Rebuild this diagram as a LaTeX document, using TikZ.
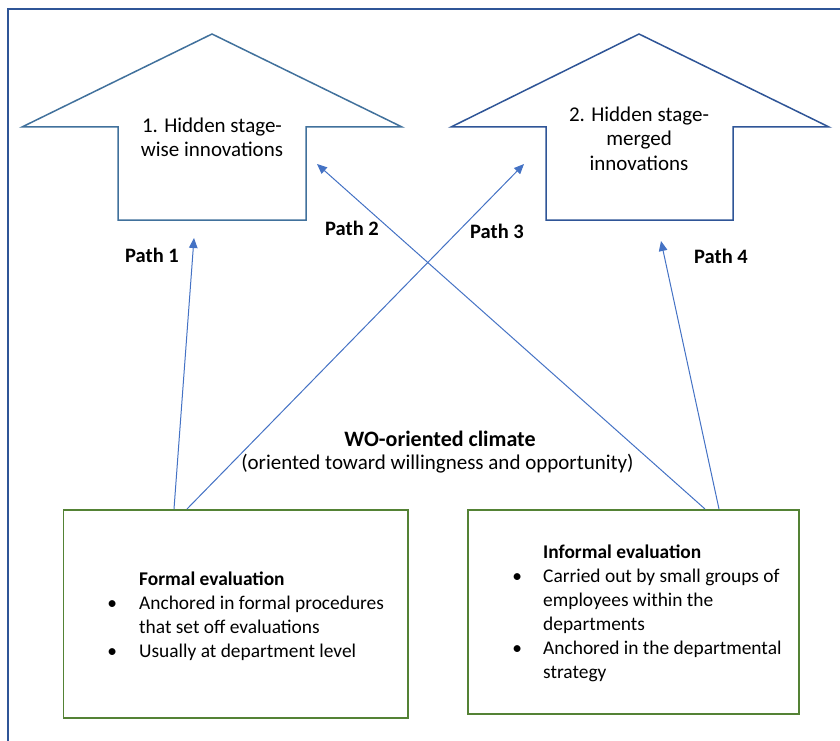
\documentclass[tikz,border=0pt]{standalone}
\usepackage{fontspec}
\setmainfont{Carlito}
\usetikzlibrary{arrows.meta}
\definecolor{frameblue}{HTML}{2F5597}
\definecolor{arrowAblue}{HTML}{41719C}
\definecolor{arrowBblue}{HTML}{2F5597}
\definecolor{connblue}{HTML}{4472C4}
\definecolor{boxgreen}{HTML}{548235}
\newcommand{\bul}[1]{\makebox[#1][l]{\makebox[0pt]{\textbullet}}}
\begin{document}
\begin{tikzpicture}[x=1pt,y=-1pt,
  bigarrow/.style={line width=1.5pt, line join=miter, fill=white},
  gbox/.style={draw=boxgreen, line width=1.5pt, anchor=north west, inner sep=0pt},
  conn/.style={draw=connblue, line width=1pt, -{Triangle[length=10pt,width=8.5pt]}},
  txt/.style={font=\fontsize{21}{24.5}\selectfont, inner sep=0pt, text=black},
  boxtxt/.style={font=\fontsize{19.4}{24}\selectfont, inner sep=0pt, text=black, anchor=base west},
  lbl/.style={font=\fontsize{20.5}{24}\selectfont\bfseries, inner sep=0pt, anchor=base west, text=black}]
\useasboundingbox (0,0) rectangle (840,741);
\clip (0,0) rectangle (840,741);
% outer frame (cut off at right and bottom)
\draw[frameblue, line width=2pt] (7.5,800) -- (7.5,9.5) -- (900,9.5);

% big arrows
\draw[bigarrow, draw=arrowAblue] (212,34) -- (402,127) -- (306,127) -- (306,220) -- (118,220) -- (118,127) -- (22,127) -- cycle;
\draw[bigarrow, draw=arrowBblue] (639,34) -- (829,127) -- (733,127) -- (733,220) -- (546,220) -- (546,127) -- (451,127) -- cycle;
\node[txt, anchor=base, align=center] (stagewise) at (212,157) {1. Hidden stage-\\wise innovations};
\node[txt, anchor=base, align=center] (stagemerged) at (639,170) {2. Hidden stage-\\merged\\innovations};

% boxes
\node[gbox, minimum width=344.5pt, minimum height=208pt] (formal) at (62.5,509) {};
\node[gbox, minimum width=331pt, minimum height=204pt] (informal) at (467,509) {};

\node[boxtxt] (formaltxt) at (112,585) {%
  \begin{tabular}[t]{@{}l@{}}
  \hspace{27pt}\textbf{Formal evaluation}\\
  \bul{27pt}Anchored in formal procedures\\
  \hspace{27pt}that set off evaluations\\
  \bul{27pt}Usually at department level
  \end{tabular}};
\node[boxtxt] (informaltxt) at (517,558) {%
  \begin{tabular}[t]{@{}l@{}}
  \hspace{26pt}\textbf{Informal evaluation}\\
  \bul{26pt}Carried out by small groups of\\
  \hspace{26pt}employees within the\\
  \hspace{26pt}departments\\
  \bul{26pt}Anchored in the departmental\\
  \hspace{26pt}strategy
  \end{tabular}};

% climate label
\node[txt, anchor=base, font=\fontsize{22}{24}\selectfont\bfseries] (climate) at (440,446) {WO-oriented climate};
\node[txt, anchor=base] (climatesub) at (437.5,469) {(oriented toward willingness and opportunity)};

% connectors
\coordinate (p1s) at (174,509);
\coordinate (p1e) at (194,238);
\coordinate (p2s) at (705,509);
\coordinate (p2e) at (317,164);
\coordinate (p3s) at (187,509);
\coordinate (p3e) at (524,164);
\coordinate (p4s) at (719,509);
\coordinate (p4e) at (661,241);
\draw[conn] (p1s) -- (p1e);
\draw[conn] (p2s) -- (p2e);
\draw[conn] (p3s) -- (p3e);
\draw[conn] (p4s) -- (p4e);

% path labels
\node[lbl] (path1) at (125,262.5) {Path 1};
\node[lbl] (path2) at (325,235) {Path 2};
\node[lbl] (path3) at (470,238) {Path 3};
\node[lbl] (path4) at (694,263) {Path 4};
\end{tikzpicture}
\end{document}
